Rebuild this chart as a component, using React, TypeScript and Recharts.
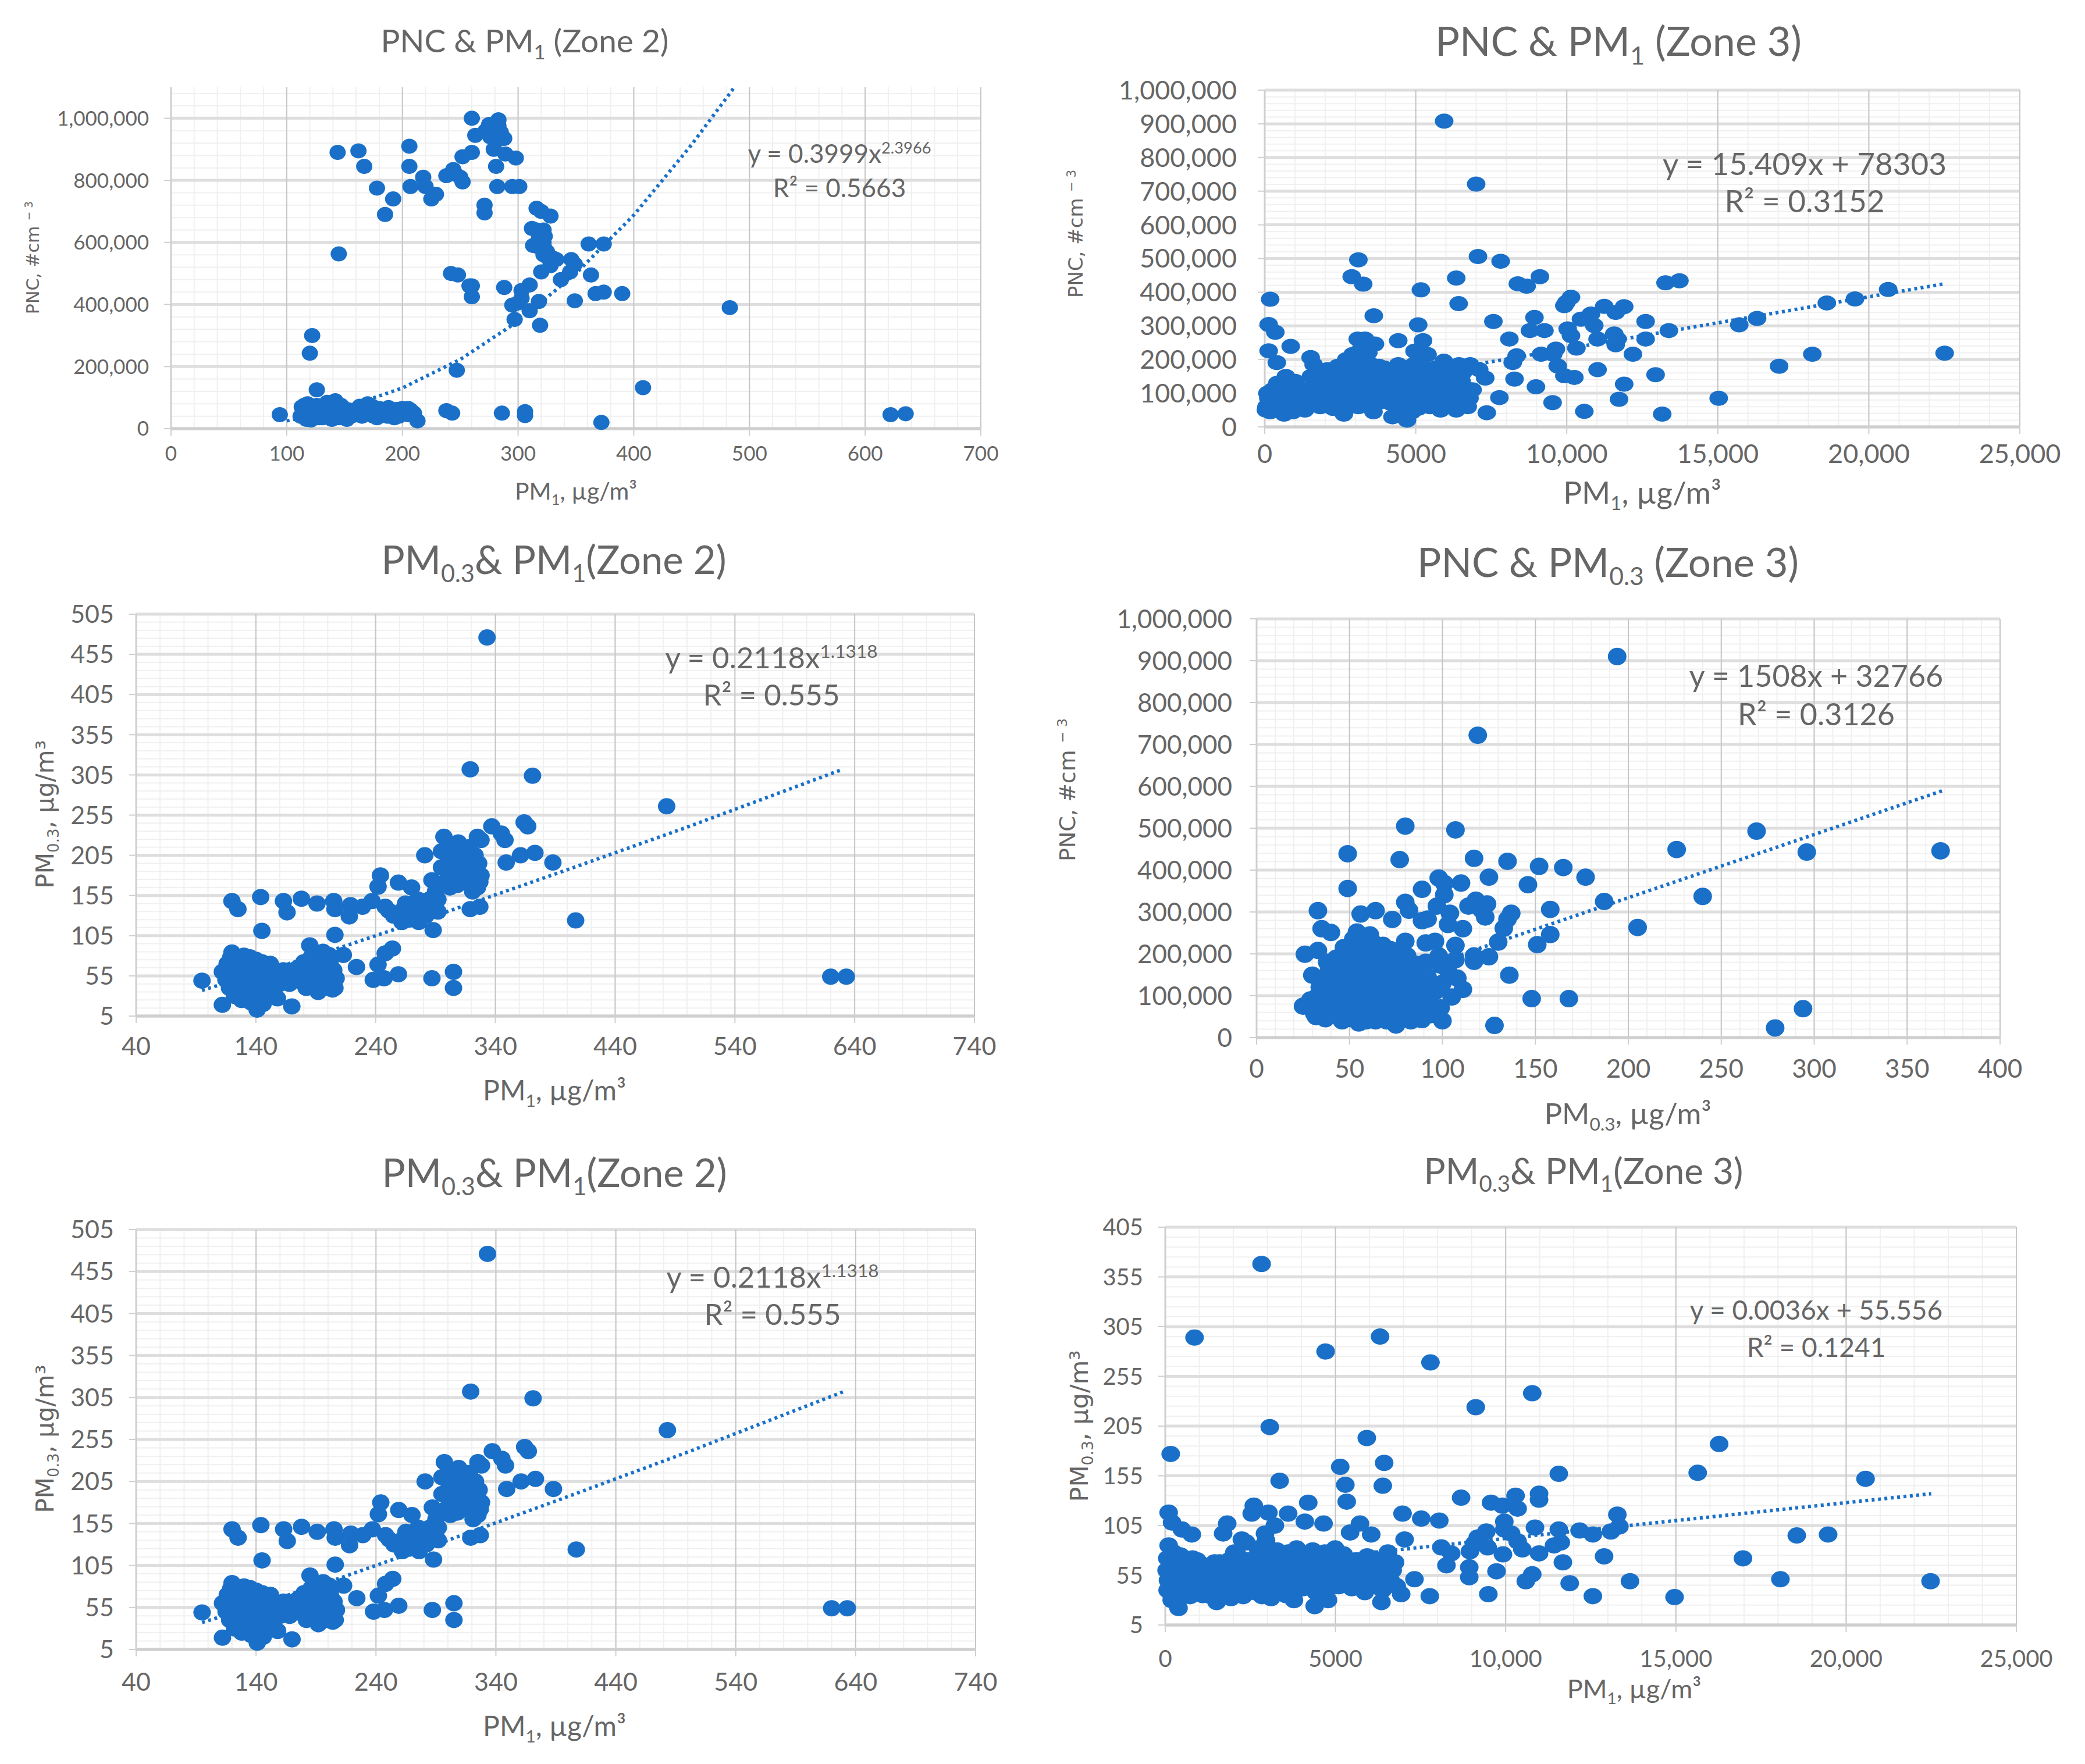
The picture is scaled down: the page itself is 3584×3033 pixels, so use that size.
import React from 'react';
import { ScatterChart, Scatter, XAxis, YAxis, CartesianGrid } from 'recharts';

type Pair = [number, number];

// [PM1, PNC], zone 2
const PNC_PM1_ZONE2: Pair[] = [
  [260, 1000e3], [283, 995e3], [275, 980e3], [272, 960e3], [278, 965e3], [280, 950e3], [283, 975e3], [276, 940e3],
  [282, 930e3], [285, 955e3], [279, 900e3], [288, 935e3], [263, 945e3], [260, 890e3], [289, 885e3], [298, 872e3],
  [252, 876e3], [281, 845e3], [282, 780e3], [295, 780e3], [301, 780e3], [144, 890e3], [162, 895e3], [167, 845e3],
  [178, 775e3], [185, 690e3], [192, 740e3], [206, 910e3], [206, 845e3], [207, 780e3], [218, 810e3], [220, 780e3],
  [225, 740e3], [229, 755e3], [238, 815e3], [244, 835e3], [246, 820e3], [250, 810e3], [252, 795e3], [271, 720e3],
  [271, 695e3], [316, 710e3], [320, 700e3], [328, 685e3], [312, 645e3], [322, 640e3], [318, 610e3], [313, 590e3],
  [318, 585e3], [323, 580e3], [322, 560e3], [326, 550e3], [333, 545e3], [328, 525e3], [320, 505e3], [337, 480e3],
  [345, 505e3], [346, 545e3], [349, 530e3], [361, 595e3], [374, 595e3], [363, 495e3], [367, 435e3], [374, 440e3],
  [390, 435e3], [349, 412e3], [242, 500e3], [248, 495e3], [258, 460e3], [260, 460e3], [260, 425e3], [288, 455e3],
  [310, 463e3], [303, 445e3], [303, 420e3], [295, 398e3], [300, 405e3], [297, 352e3], [310, 380e3], [318, 410e3],
  [319, 333e3], [145, 563e3], [122, 300e3], [120, 243e3], [126, 125e3], [247, 188e3], [408, 132e3], [483, 390e3],
  [94, 45e3], [113, 70e3], [115, 50e3], [118, 80e3], [120, 60e3], [122, 40e3], [125, 55e3], [128, 35e3], [130, 65e3],
  [133, 50e3], [136, 75e3], [138, 45e3], [140, 85e3], [143, 60e3], [145, 35e3], [142, 90e3], [148, 50e3], [150, 65e3],
  [155, 40e3], [158, 55e3], [162, 60e3], [165, 40e3], [170, 80e3], [172, 55e3], [175, 40e3], [180, 65e3], [185, 50e3],
  [190, 60e3], [193, 35e3], [198, 50e3], [200, 65e3], [205, 45e3], [207, 60e3], [213, 25e3], [112, 40e3], [117, 30e3],
  [121, 28e3], [126, 75e3], [131, 35e3], [135, 85e3], [139, 30e3], [152, 30e3], [168, 65e3], [178, 35e3], [238, 58e3],
  [243, 50e3], [286, 50e3], [306, 55e3], [306, 42e3], [372, 20e3], [622, 45e3], [635, 48e3],
  [115, 75e3], [117, 60e3], [119, 45e3], [124, 70e3], [127, 45e3], [129, 55e3], [132, 75e3], [134, 40e3], [137, 60e3],
  [141, 70e3], [144, 48e3], [147, 75e3], [151, 45e3], [154, 60e3], [157, 42e3], [160, 50e3], [163, 72e3], [167, 45e3],
  [171, 62e3], [174, 72e3], [177, 50e3], [182, 45e3], [183, 62e3], [187, 40e3], [188, 68e3], [192, 50e3], [195, 62e3],
  [197, 40e3], [202, 55e3], [205, 65e3], [210, 50e3], [318, 625e3], [323, 620e3], [316, 640e3], [320, 595e3], [322, 600e3],
  [325, 570e3], [330, 550e3],
];
const PNC_PM1_ZONE2_TREND: Pair[] = [
  [100, 25e3], [150, 67e3], [200, 131e3], [250, 223e3], [300, 346e3], [350, 500e3], [400, 688e3], [450, 915e3], [487, 1100e3],
];

// [PM1, PM0.3], zone 2 (the same chart appears twice in the figure)
const PM03_PM1_ZONE2: Pair[] = [
  [95, 49], [333, 476], [319, 312], [371, 304], [483, 266], [407, 124], [620, 54], [633, 54], [337, 241], [364, 246],
  [367, 241], [345, 232], [348, 224], [297, 228], [309, 221], [325, 228], [328, 224], [281, 205], [295, 210], [317, 212],
  [323, 205], [361, 205], [373, 208], [349, 196], [388, 196], [301, 198], [301, 188], [320, 196], [321, 184], [323, 177],
  [309, 181], [287, 174], [303, 177], [314, 174], [321, 160], [244, 180], [242, 166], [259, 171], [270, 165], [290, 160],
  [281, 148], [237, 148], [144, 153], [120, 148], [125, 138], [163, 148], [166, 134], [178, 151], [191, 145], [205, 148],
  [206, 138], [219, 143], [218, 129], [229, 141], [248, 141], [251, 136], [262, 122], [262, 136], [273, 136], [279, 141],
  [276, 122], [284, 136], [292, 135], [288, 112], [319, 138], [327, 141], [145, 111], [206, 106], [185, 93], [120, 84],
  [254, 89], [248, 83], [213, 81], [201, 81], [224, 66], [242, 69], [259, 57], [287, 52], [305, 60], [305, 40], [238, 50],
  [247, 52], [112, 19], [170, 17], [141, 13], [158, 27], [112, 60], [115, 50], [116, 70], [118, 40], [119, 78], [120, 55],
  [122, 65], [122, 30], [124, 45], [125, 72], [126, 35], [127, 60], [128, 25], [129, 50], [130, 80], [131, 42], [132, 68],
  [133, 30], [134, 55], [135, 78], [136, 22], [137, 48], [138, 62], [139, 35], [140, 75], [141, 52], [142, 28], [143, 65],
  [144, 40], [145, 72], [146, 20], [147, 55], [148, 35], [150, 62], [151, 45], [152, 70], [153, 30], [155, 52], [158, 60],
  [160, 45], [163, 62], [165, 48], [170, 55], [175, 65], [178, 48], [180, 72], [182, 40], [184, 58], [186, 78], [187, 45],
  [190, 62], [192, 35], [193, 75], [195, 50], [197, 68], [199, 42], [201, 58], [203, 48], [205, 62], [206, 40], [207, 52],
  [196, 85], [305, 205], [312, 190], [318, 215], [325, 165], [318, 170], [308, 168], [298, 172], [290, 170], [285, 150],
  [270, 140], [268, 125], [260, 130], [292, 150], [255, 130], [265, 145], [275, 150], [282, 130], [295, 190], [300, 215],
  [328, 180], [327, 172], [326, 195], [313, 205], [302, 165], [306, 210], [165, 55], [168, 45], [158, 48], [172, 62],
  [176, 55], [180, 50], [183, 65], [188, 55], [191, 70], [194, 45], [198, 58], [202, 70], [204, 38], [200, 40], [182, 55],
  [118, 50], [121, 42], [123, 58], [127, 48], [130, 62], [133, 72], [135, 40], [137, 70], [139, 55], [142, 48], [144, 58],
  [146, 42], [149, 68], [152, 55], [140, 40], [128, 70], [125, 32],
];
const PM03_PM1_ZONE2_TREND: Pair[] = [[95, 37], [200, 85], [300, 135], [400, 187], [500, 240], [630, 312]];

// [PM1, PNC], zone 3
const PNC_PM1_ZONE3: Pair[] = [
  [5940, 908e3], [7000, 721e3], [7060, 506e3], [7810, 492e3], [3100, 496e3], [2880, 446e3], [3260, 424e3], [5170, 407e3],
  [6340, 442e3], [6420, 366e3], [9110, 446e3], [8380, 425e3], [8670, 418e3], [13270, 428e3], [13730, 434e3], [180, 379e3],
  [3610, 330e3], [7570, 313e3], [8930, 325e3], [9990, 370e3], [10140, 385e3], [9920, 360e3], [10470, 320e3], [10800, 335e3],
  [11240, 358e3], [11620, 340e3], [11900, 357e3], [12610, 313e3], [13380, 286e3], [15710, 303e3], [16300, 322e3],
  [18610, 368e3], [19540, 380e3], [20640, 408e3], [22510, 219e3], [18130, 216e3], [17030, 180e3], [15030, 85e3],
  [13160, 38e3], [10580, 46e3], [11730, 82e3], [11900, 127e3], [12940, 155e3], [12190, 216e3], [12610, 261e3], [11020, 170e3],
  [10250, 147e3], [9920, 152e3], [9530, 72e3], [8980, 119e3], [8270, 142e3], [7770, 87e3], [8210, 191e3], [8340, 211e3],
  [8100, 261e3], [8780, 286e3], [9260, 286e3], [9150, 216e3], [9550, 216e3], [9640, 231e3], [9700, 181e3], [10030, 291e3],
  [10140, 271e3], [10320, 234e3], [10910, 301e3], [11020, 261e3], [11570, 276e3], [11680, 261e3], [11620, 244e3], [130, 304e3],
  [350, 281e3], [860, 239e3], [130, 226e3], [400, 191e3], [1520, 206e3], [5080, 303e3], [5240, 256e3], [4420, 256e3],
  [3080, 261e3], [3320, 261e3], [3650, 246e3], [3430, 221e3], [7300, 145e3], [7350, 42e3], [7100, 170e3], [6800, 185e3],
  [60, 60e3], [120, 85e3], [180, 45e3], [260, 110e3], [330, 70e3], [420, 130e3], [490, 50e3], [560, 95e3], [640, 38e3],
  [700, 150e3], [780, 75e3], [850, 115e3], [930, 45e3], [1010, 135e3], [1100, 85e3], [1190, 55e3], [1300, 110e3], [1420, 70e3],
  [1530, 150e3], [1620, 185e3], [1700, 95e3], [1840, 60e3], [1950, 125e3], [2080, 170e3], [2190, 80e3], [2260, 55e3],
  [2330, 140e3], [2420, 180e3], [2510, 105e3], [2620, 38e3], [2700, 200e3], [2760, 150e3], [2830, 85e3], [2910, 215e3],
  [2950, 125e3], [3030, 175e3], [3100, 60e3], [3180, 230e3], [3240, 135e3], [3330, 190e3], [3410, 95e3], [3490, 155e3],
  [3600, 45e3], [3680, 110e3], [3780, 180e3], [3850, 75e3], [3950, 135e3], [4040, 165e3], [4120, 95e3], [4230, 30e3],
  [4340, 140e3], [4420, 185e3], [4500, 70e3], [4610, 115e3], [4710, 20e3], [4790, 160e3], [4880, 45e3], [4960, 225e3],
  [5030, 105e3], [5120, 190e3], [5200, 75e3], [5300, 150e3], [5390, 215e3], [5470, 60e3], [5560, 130e3], [5650, 175e3],
  [5730, 95e3], [5820, 50e3], [5930, 195e3], [6020, 155e3], [6110, 75e3], [6230, 115e3], [6340, 50e3], [6430, 185e3],
  [6520, 135e3], [6600, 90e3], [6720, 60e3], [6880, 110e3],
  [40, 50e3], [90, 100e3], [150, 75e3], [210, 60e3], [300, 90e3], [380, 55e3], [450, 105e3], [520, 75e3], [600, 120e3],
  [660, 60e3], [740, 100e3], [810, 50e3], [880, 135e3], [960, 85e3], [1050, 60e3], [1140, 115e3], [1230, 80e3], [1330, 50e3],
  [1460, 105e3], [1570, 65e3], [1660, 130e3], [1780, 90e3], [1890, 155e3], [1990, 70e3], [2100, 105e3], [2220, 135e3],
  [2300, 95e3], [2390, 60e3], [2470, 155e3], [2580, 80e3], [2650, 125e3], [2730, 170e3], [2790, 60e3], [2860, 120e3],
  [2940, 170e3], [3000, 95e3], [3060, 140e3], [3130, 200e3], [3200, 100e3], [3260, 165e3], [3350, 70e3], [3400, 125e3],
  [3450, 190e3], [3530, 85e3], [3590, 130e3], [3700, 150e3], [3760, 95e3], [3880, 115e3], [3960, 175e3], [4080, 130e3],
  [4180, 70e3], [4280, 105e3], [4390, 160e3], [4470, 40e3], [4550, 145e3], [4640, 80e3], [4680, 175e3], [4750, 55e3],
  [4830, 120e3], [4900, 85e3], [4930, 185e3], [5000, 150e3], [5080, 55e3], [5160, 125e3], [5250, 175e3], [5330, 100e3],
  [5420, 170e3], [5510, 100e3], [5600, 75e3], [5690, 145e3], [5780, 130e3], [5880, 160e3], [5960, 105e3], [6060, 130e3],
  [6160, 165e3], [6280, 90e3], [6400, 110e3], [6480, 70e3], [6560, 160e3], [6650, 115e3], [6780, 85e3],
];
const PNC_PM1_ZONE3_TREND: Pair[] = [[0, 78e3], [5000, 155e3], [10000, 232e3], [15000, 309e3], [22500, 425e3]];

// [PM0.3, PNC], zone 3
const PNC_PM03_ZONE3: Pair[] = [
  [194, 910e3], [119, 722e3], [80, 505e3], [107, 496e3], [269, 493e3], [49, 439e3], [77, 425e3], [117, 428e3], [135, 421e3],
  [152, 409e3], [165, 406e3], [177, 383e3], [226, 449e3], [296, 443e3], [368, 446e3], [49, 356e3], [98, 381e3], [89, 354e3],
  [101, 368e3], [110, 369e3], [101, 341e3], [125, 383e3], [146, 365e3], [187, 325e3], [240, 337e3], [205, 263e3], [158, 306e3],
  [158, 246e3], [151, 222e3], [33, 303e3], [56, 295e3], [64, 303e3], [73, 282e3], [80, 323e3], [82, 304e3], [89, 279e3],
  [92, 283e3], [97, 314e3], [104, 297e3], [114, 314e3], [118, 328e3], [124, 319e3], [121, 305e3], [123, 288e3], [137, 297e3],
  [135, 283e3], [133, 261e3], [111, 260e3], [103, 270e3], [130, 228e3], [125, 193e3], [117, 182e3], [117, 195e3], [107, 220e3],
  [107, 186e3], [136, 149e3], [148, 93e3], [168, 93e3], [128, 29e3], [279, 23e3], [294, 69e3], [35, 260e3], [40, 251e3],
  [26, 199e3], [33, 208e3], [30, 149e3], [25, 75e3], [54, 252e3], [61, 245e3], [80, 230e3], [96, 230e3], [91, 226e3], [99, 173e3],
  [108, 142e3], [111, 115e3], [105, 97e3], [99, 71e3], [100, 40e3], [89, 43e3],
  [29, 90e3], [31, 58e3], [34, 120e3], [36, 75e3], [37, 45e3], [39, 160e3], [40, 100e3], [42, 55e3], [43, 190e3], [44, 135e3],
  [45, 80e3], [46, 40e3], [47, 215e3], [48, 165e3], [49, 110e3], [50, 65e3], [52, 235e3], [53, 185e3], [53, 140e3], [54, 90e3],
  [55, 35e3], [56, 215e3], [57, 160e3], [58, 115e3], [59, 60e3], [60, 195e3], [61, 85e3], [62, 230e3], [63, 140e3], [64, 40e3],
  [65, 175e3], [66, 105e3], [67, 65e3], [68, 220e3], [69, 150e3], [70, 40e3], [71, 190e3], [72, 120e3], [73, 80e3], [74, 160e3],
  [75, 30e3], [76, 55e3], [77, 135e3], [78, 200e3], [79, 95e3], [80, 170e3], [81, 60e3], [82, 125e3], [83, 40e3], [84, 150e3],
  [85, 90e3], [87, 65e3], [89, 115e3], [91, 180e3], [93, 85e3],
  [30, 75e3], [32, 50e3], [33, 100e3], [35, 140e3], [37, 95e3], [38, 180e3], [41, 70e3], [41, 130e3], [43, 150e3], [44, 100e3],
  [45, 55e3], [46, 180e3], [47, 120e3], [48, 85e3], [49, 195e3], [50, 140e3], [51, 45e3], [51, 95e3], [52, 170e3], [54, 115e3],
  [55, 65e3], [55, 210e3], [56, 140e3], [57, 90e3], [58, 185e3], [59, 40e3], [60, 125e3], [61, 165e3], [62, 65e3], [63, 105e3],
  [64, 205e3], [65, 140e3], [66, 45e3], [67, 180e3], [68, 90e3], [69, 125e3], [70, 65e3], [71, 155e3], [72, 210e3], [73, 105e3],
  [74, 45e3], [75, 185e3], [76, 130e3], [77, 85e3], [78, 165e3], [79, 55e3], [80, 115e3], [81, 195e3], [82, 90e3], [83, 150e3],
  [84, 65e3], [85, 125e3], [86, 45e3], [86, 175e3], [88, 100e3], [90, 60e3], [92, 145e3], [94, 55e3], [96, 110e3], [98, 195e3],
  [100, 130e3], [103, 160e3],
];
const PNC_PM03_ZONE3_TREND: Pair[] = [[25, 70e3], [100, 183e3], [200, 334e3], [300, 485e3], [370, 591e3]];

// [PM1, PM0.3], zone 3
const PM03_PM1_ZONE3: Pair[] = [
  [2830, 368], [860, 294], [6310, 295], [4710, 280], [7790, 269], [10780, 238], [9120, 224], [3070, 204], [5920, 193], [160, 177],
  [16270, 187], [6430, 168], [5140, 164], [5290, 146], [6390, 145], [3360, 150], [11560, 157], [15640, 158], [20570, 152],
  [5330, 129], [8690, 133], [4200, 128], [2600, 125], [2540, 117], [3030, 118], [3610, 117], [100, 118], [9570, 128], [10290, 135],
  [10980, 137], [10980, 131], [9900, 125], [10350, 122], [6970, 117], [7520, 112], [8050, 110], [13280, 116], [13340, 104],
  [12170, 100], [12560, 96], [13090, 99], [18550, 95], [19470, 96], [10860, 103], [11560, 101], [9960, 109], [9960, 101], [9430, 99],
  [10160, 97], [9180, 93], [7030, 91], [9080, 87], [10350, 89], [11620, 88], [11420, 85], [8110, 83], [8400, 77], [8950, 79],
  [9470, 83], [9920, 76], [10490, 81], [10980, 77], [12890, 74], [16970, 72], [11680, 68], [8260, 65], [8930, 63], [8930, 53],
  [9730, 59], [10780, 56], [10590, 49], [11880, 47], [13650, 49], [18070, 51], [22480, 49], [9490, 36], [12560, 34], [14960, 33],
  [7770, 34], [6350, 28], [4390, 24], [390, 22], [7320, 51], [6930, 36], [200, 108], [490, 101], [780, 96], [1820, 107], [1700, 97],
  [2250, 91], [2930, 97], [3220, 105], [4100, 109], [4650, 107], [5430, 98], [5720, 107], [6050, 96],
  [60, 72], [80, 50], [110, 60], [130, 38], [190, 30], [240, 78], [290, 44], [340, 62], [380, 30], [450, 75], [500, 52], [560, 35],
  [620, 68], [700, 46], [770, 60], [840, 38], [940, 70], [1020, 52], [1100, 35], [1200, 64], [1290, 46], [1400, 58], [1510, 28],
  [1600, 68], [1700, 42], [1820, 56], [1930, 32], [2030, 78], [2100, 62], [2180, 45], [2290, 34], [2380, 88], [2460, 70], [2540, 50],
  [2640, 38], [2720, 82], [2800, 60], [2880, 44], [2960, 90], [3030, 72], [3110, 32], [3190, 55], [3280, 80], [3360, 42], [3450, 66],
  [3540, 35], [3610, 78], [3700, 52], [3780, 30], [3860, 82], [3950, 62], [4040, 42], [4130, 72], [4260, 55], [4330, 80], [4420, 38],
  [4510, 65], [4600, 48], [4690, 78], [4780, 30], [4880, 58], [4990, 82], [5100, 44], [5240, 76], [5370, 55], [5480, 42], [5600, 70],
  [5740, 52], [5860, 38], [5930, 74], [6050, 60], [6180, 44], [6300, 68], [6440, 52], [6540, 78], [6680, 60], [6800, 44],
  [40, 60], [70, 40], [100, 85], [140, 50], [170, 68], [210, 42], [260, 58], [300, 34], [320, 72], [360, 48], [410, 65], [430, 38],
  [470, 56], [530, 68], [590, 48], [660, 58], [730, 34], [800, 72], [880, 50], [980, 40], [1060, 66], [1150, 48], [1250, 54],
  [1340, 34], [1450, 68], [1560, 48], [1650, 56], [1760, 36], [1870, 70], [1980, 50], [2060, 40], [2150, 74], [2240, 58], [2330, 48],
  [2420, 70], [2500, 40], [2590, 62], [2680, 50], [2760, 70], [2840, 34], [2920, 56], [3000, 82], [3070, 48], [3150, 68], [3240, 42],
  [3320, 60], [3400, 74], [3490, 48], [3580, 62], [3660, 40], [3740, 68], [3820, 50], [3900, 72], [3990, 52], [4080, 60], [4170, 44],
  [4290, 68], [4370, 50], [4470, 74], [4560, 40], [4640, 62], [4720, 50], [4830, 70], [4930, 44], [5050, 64], [5170, 56], [5300, 66],
  [5420, 48], [5540, 60], [5680, 44], [5800, 62], [5980, 50], [6120, 72], [6250, 56], [6380, 40], [6490, 64], [6620, 50], [6750, 68],
];
const PM03_PM1_ZONE3_TREND: Pair[] = [[0, 56], [5000, 74], [10000, 92], [15000, 110], [22500, 137]];

// tick values and labels
const PM1_ZONE2_TICKS = [0, 100, 200, 300, 400, 500, 600, 700];
const PM1_ZONE2_LABELS = ['0', '100', '200', '300', '400', '500', '600', '700'];
const PNC_200K_TICKS = [0, 200e3, 400e3, 600e3, 800e3, 1000e3];
const PNC_200K_LABELS = ['0', '200,000', '400,000', '600,000', '800,000', '1,000,000'];
const PNC_100K_TICKS = [0, 100e3, 200e3, 300e3, 400e3, 500e3, 600e3, 700e3, 800e3, 900e3, 1000e3];
const PNC_100K_LABELS = ['0', '100,000', '200,000', '300,000', '400,000', '500,000', '600,000', '700,000', '800,000', '900,000', '1,000,000'];
const PM1_ZONE3_TICKS = [0, 5000, 10000, 15000, 20000, 25000];
const PM1_ZONE3_LABELS = ['0', '5000', '10,000', '15,000', '20,000', '25,000'];
const PM1_OFFSET_TICKS = [40, 140, 240, 340, 440, 540, 640, 740];
const PM1_OFFSET_LABELS = ['40', '140', '240', '340', '440', '540', '640', '740'];
const PM03_505_TICKS = [5, 55, 105, 155, 205, 255, 305, 355, 405, 455, 505];
const PM03_505_LABELS = ['5', '55', '105', '155', '205', '255', '305', '355', '405', '455', '505'];
const PM03_405_TICKS = [5, 55, 105, 155, 205, 255, 305, 355, 405];
const PM03_405_LABELS = ['5', '55', '105', '155', '205', '255', '305', '355', '405'];
const PM03_X_TICKS = [0, 50, 100, 150, 200, 250, 300, 350, 400];
const PM03_X_LABELS = ['0', '50', '100', '150', '200', '250', '300', '350', '400'];

const BLUE = '#1a70c8';
const FONT = 'Lato, sans-serif';
const GREY = '#666666';
const PAD_LEFT = 300;
const PAD_TOP = 30;
const PAD_RIGHT = 80;
const PAD_BOTTOM = 110;

const steps = (min: number, max: number, step: number) => {
  const out: number[] = [];
  for (let v = min; v <= max; v += step) out.push(v);
  return out;
};
const toPoints = (pairs: Pair[]) => pairs.map(([x, y]) => ({ x, y }));

const Txt = ({ x, y, size, rotate, family, children }: { x: number; y: number; size: number; rotate?: boolean; family?: string; children: React.ReactNode }) => (
  <div
    style={{
      position: 'absolute',
      left: x,
      top: y,
      transform: `translate(-50%, -50%)${rotate ? ' rotate(-90deg)' : ''}`,
      whiteSpace: 'nowrap',
      fontFamily: family || FONT,
      fontSize: size,
      lineHeight: 1,
      color: GREY,
    }}
  >
    {children}
  </div>
);

type PanelProps = {
  plot: [number, number, number, number];
  xDomain: [number, number];
  yDomain: [number, number];
  xTicks: number[];
  xLabels: string[];
  yTicks: number[];
  yLabels: string[];
  xMinor: number;
  yMinor: number;
  tickFont: number;
  xGap: number;
  yGap: number;
  data: Pair[];
  trend: Pair[];
  rx: number;
  ry: number;
};

function Panel({ plot, xDomain, yDomain, xTicks, xLabels, yTicks, yLabels, xMinor, yMinor, tickFont, xGap, yGap, data, trend, rx, ry }: PanelProps) {
  const [left, top, right, bottom] = plot;
  const tick = { fill: GREY, fontSize: tickFont, fontFamily: FONT };
  return (
    <div style={{ position: 'absolute', left: left - PAD_LEFT, top: top - PAD_TOP }}>
      <ScatterChart
        width={right - left + PAD_LEFT + PAD_RIGHT}
        height={bottom - top + PAD_TOP + PAD_BOTTOM}
        margin={{ top: PAD_TOP, right: PAD_RIGHT, bottom: 0, left: 0 }}
      >
        <CartesianGrid
          horizontalValues={steps(yDomain[0], yDomain[1], yMinor)}
          verticalValues={steps(xDomain[0], xDomain[1], xMinor)}
          stroke="#f0f0f0"
          strokeWidth={2}
        />
        <CartesianGrid horizontalValues={yTicks} vertical={false} stroke="#dedede" strokeWidth={5} />
        <CartesianGrid verticalValues={xTicks} horizontal={false} stroke="#c6c6c6" strokeWidth={2} />
        <XAxis
          type="number"
          dataKey="x"
          domain={xDomain}
          ticks={xTicks}
          interval={0}
          tick={tick}
          tickFormatter={(_v: number, i: number) => xLabels[i]}
          axisLine={{ stroke: '#cfcfcf', strokeWidth: 5 }}
          tickLine={{ stroke: '#cfcfcf', strokeWidth: 2 }}
          tickSize={12}
          tickMargin={xGap}
          height={PAD_BOTTOM}
        />
        <YAxis
          type="number"
          dataKey="y"
          domain={yDomain}
          ticks={yTicks}
          interval={0}
          tick={tick}
          tickFormatter={(_v: number, i: number) => yLabels[i]}
          axisLine={{ stroke: '#cfcfcf', strokeWidth: 3 }}
          tickLine={{ stroke: '#cfcfcf', strokeWidth: 2 }}
          tickSize={12}
          tickMargin={yGap}
          width={PAD_LEFT}
        />
        <Scatter
          data={toPoints(trend)}
          fill={BLUE}
          line={{ stroke: BLUE, strokeWidth: 6, strokeDasharray: '5 6' }}
          shape={() => <g />}
          isAnimationActive={false}
        />
        <Scatter
          data={toPoints(data)}
          shape={(p: { cx?: number; cy?: number }) => <ellipse cx={p.cx} cy={p.cy} rx={rx} ry={ry} fill={BLUE} />}
          isAnimationActive={false}
        />
      </ScatterChart>
    </div>
  );
}

const Sub = ({ children }: { children: React.ReactNode }) => <sub style={{ fontSize: '0.62em', lineHeight: 0 }}>{children}</sub>;
const Sup = ({ children }: { children: React.ReactNode }) => <sup style={{ fontSize: '0.62em', lineHeight: 0 }}>{children}</sup>;
const AXIS_FONT = 'DejaVu Sans, sans-serif';

const PncLabel = () => (<>PNC, #cm <Sup>− 3</Sup></>);
const Pm03Label = () => (<>PM<Sub>0.3</Sub>, µg/m³</>);
const Pm1Label = () => (<>PM<Sub>1</Sub>, µg/m³</>);

export default function App() {
  return (
    <div style={{ position: 'absolute', left: 0, top: 0, width: 3584, height: 3033, background: '#fff', overflow: 'hidden' }}>
      <Txt x={902} y={69} size={55}>PNC &amp; PM<Sub>1</Sub> (Zone 2)</Txt>
      <Txt x={2782} y={69} size={70}>PNC &amp; PM<Sub>1</Sub> (Zone 3)</Txt>
      <Txt x={952} y={961} size={67}>PM<Sub>0.3</Sub>&amp; PM<Sub>1</Sub>(Zone 2)</Txt>
      <Txt x={2764} y={965} size={69}>PNC &amp; PM<Sub>0.3</Sub> (Zone 3)</Txt>
      <Txt x={953} y={2015} size={67}>PM<Sub>0.3</Sub>&amp; PM<Sub>1</Sub>(Zone 2)</Txt>
      <Txt x={2722} y={2012} size={62}>PM<Sub>0.3</Sub>&amp; PM<Sub>1</Sub>(Zone 3)</Txt>

      <Panel plot={[294, 150, 1686, 737]} xDomain={[0, 700]} yDomain={[0, 1100e3]} xTicks={PM1_ZONE2_TICKS} xLabels={PM1_ZONE2_LABELS}
        yTicks={PNC_200K_TICKS} yLabels={PNC_200K_LABELS} xMinor={20} yMinor={40e3} tickFont={35} xGap={18} yGap={26}
        data={PNC_PM1_ZONE2} trend={PNC_PM1_ZONE2_TREND} rx={14} ry={13} />
      <Panel plot={[2174, 155, 3472, 734]} xDomain={[0, 25000]} yDomain={[0, 1000e3]} xTicks={PM1_ZONE3_TICKS} xLabels={PM1_ZONE3_LABELS}
        yTicks={PNC_100K_TICKS} yLabels={PNC_100K_LABELS} xMinor={1000} yMinor={20e3} tickFont={45} xGap={18} yGap={36}
        data={PNC_PM1_ZONE3} trend={PNC_PM1_ZONE3_TREND} rx={16} ry={13} />
      <Panel plot={[234, 1056, 1675, 1747]} xDomain={[40, 740]} yDomain={[5, 505]} xTicks={PM1_OFFSET_TICKS} xLabels={PM1_OFFSET_LABELS}
        yTicks={PM03_505_TICKS} yLabels={PM03_505_LABELS} xMinor={20} yMinor={10} tickFont={43} xGap={24} yGap={26}
        data={PM03_PM1_ZONE2} trend={PM03_PM1_ZONE2_TREND} rx={15} ry={14} />
      <Panel plot={[2160, 1064, 3438, 1784]} xDomain={[0, 400]} yDomain={[0, 1000e3]} xTicks={PM03_X_TICKS} xLabels={PM03_X_LABELS}
        yTicks={PNC_100K_TICKS} yLabels={PNC_100K_LABELS} xMinor={10} yMinor={20e3} tickFont={44} xGap={26} yGap={30}
        data={PNC_PM03_ZONE3} trend={PNC_PM03_ZONE3_TREND} rx={16} ry={15} />
      <Panel plot={[234, 2114, 1677, 2836]} xDomain={[40, 740]} yDomain={[5, 505]} xTicks={PM1_OFFSET_TICKS} xLabels={PM1_OFFSET_LABELS}
        yTicks={PM03_505_TICKS} yLabels={PM03_505_LABELS} xMinor={20} yMinor={10} tickFont={43} xGap={28} yGap={26}
        data={PM03_PM1_ZONE2} trend={PM03_PM1_ZONE2_TREND} rx={15} ry={14} />
      <Panel plot={[2003, 2110, 3466, 2794]} xDomain={[0, 25000]} yDomain={[5, 405]} xTicks={PM1_ZONE3_TICKS} xLabels={PM1_ZONE3_LABELS}
        yTicks={PM03_405_TICKS} yLabels={PM03_405_LABELS} xMinor={1000} yMinor={10} tickFont={40} xGap={32} yGap={26}
        data={PM03_PM1_ZONE3} trend={PM03_PM1_ZONE3_TREND} rx={16} ry={14} />

      <Txt x={990} y={843} size={41}><Pm1Label /></Txt>
      <Txt x={2823} y={845} size={53}><Pm1Label /></Txt>
      <Txt x={953} y={1874} size={48}><Pm1Label /></Txt>
      <Txt x={2798} y={1913} size={51}><>PM<Sub>0.3</Sub>, µg/m³</></Txt>
      <Txt x={953} y={2967} size={48}><Pm1Label /></Txt>
      <Txt x={2809} y={2903} size={45}><Pm1Label /></Txt>

      <Txt x={57} y={443} size={30} rotate family={AXIS_FONT}><PncLabel /></Txt>
      <Txt x={1849} y={402} size={34} rotate family={AXIS_FONT}><PncLabel /></Txt>
      <Txt x={78} y={1400} size={42} rotate family={AXIS_FONT}><Pm03Label /></Txt>
      <Txt x={1835} y={1358} size={38} rotate family={AXIS_FONT}><PncLabel /></Txt>
      <Txt x={78} y={2474} size={42} rotate family={AXIS_FONT}><Pm03Label /></Txt>
      <Txt x={1855} y={2452} size={43} rotate family={AXIS_FONT}><Pm03Label /></Txt>

      <Txt x={1443} y={263} size={44}>y = 0.3999x<Sup>2.3966</Sup></Txt>
      <Txt x={1443} y={322} size={44}>R² = 0.5663</Txt>
      <Txt x={3102} y={280} size={53}>y = 15.409x + 78303</Txt>
      <Txt x={3102} y={344} size={53}>R² = 0.3152</Txt>
      <Txt x={1326} y={1129} size={51}>y = 0.2118x<Sup>1.1318</Sup></Txt>
      <Txt x={1326} y={1193} size={51}>R² = 0.555</Txt>
      <Txt x={3122} y={1161} size={52}>y = 1508x + 32766</Txt>
      <Txt x={3122} y={1227} size={52}>R² = 0.3126</Txt>
      <Txt x={1328} y={2194} size={51}>y = 0.2118x<Sup>1.1318</Sup></Txt>
      <Txt x={1328} y={2258} size={51}>R² = 0.555</Txt>
      <Txt x={3122} y={2252} size={46}>y = 0.0036x + 55.556</Txt>
      <Txt x={3122} y={2316} size={46}>R² = 0.1241</Txt>
    </div>
  );
}
